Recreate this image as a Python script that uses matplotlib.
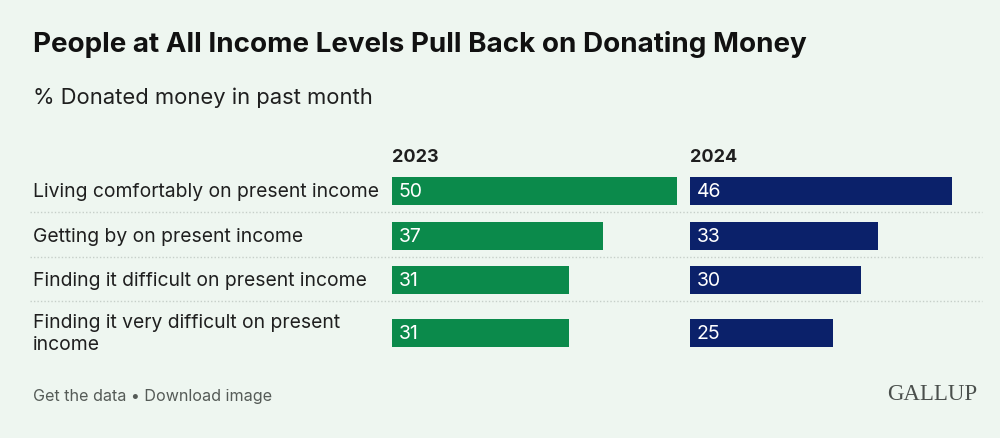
import matplotlib
matplotlib.use("Agg")
import matplotlib.pyplot as plt
from matplotlib.lines import Line2D

categories = [
    "Living comfortably on present income",
    "Getting by on present income",
    "Finding it difficult on present income",
    "Finding it very difficult on present\nincome",
]
series_names = ["2023", "2024"]
values_2023 = [50, 37, 31, 31]
values_2024 = [46, 33, 30, 25]

BG = "#EEF6F0"
GREEN = "#0B8A4B"
NAVY = "#0B216A"
TXT = "#1f1f1f"

W, H = 1000, 439
fig = plt.figure(figsize=(W / 100, H / 100), dpi=100, facecolor=BG)
plt.rcParams['font.family'] = ['Inter', 'DejaVu Sans']

def fx(px):
    return px / W

def fy(py):
    return 1 - py / H

# layout: row centers in pixel space
row_centers = [192, 237, 281, 334]
bar_h = 28
y_top, y_bot = 165, 360
xmax = 50
panel_w = 285

for left, vals, color in [(392, values_2023, GREEN), (690, values_2024, NAVY)]:
    ax = fig.add_axes([fx(left), fy(y_bot), fx(panel_w), (y_bot - y_top) / H])
    ax.set_facecolor("none")
    ax.set_xlim(0, xmax)
    ax.set_ylim(y_bot, y_top)
    ax.barh(row_centers, vals, height=bar_h, color=color, edgecolor="none")
    for yc, v in zip(row_centers, vals):
        ax.text(1.2, yc + 0.5, f"{v}", color="white", fontsize=14, va="center", ha="left")
    ax.axis("off")

# headers
fig.text(fx(392), fy(158), series_names[0], fontsize=13, fontweight="bold", color=TXT, va="center", ha="left")
fig.text(fx(690), fy(158), series_names[1], fontsize=13, fontweight="bold", color=TXT, va="center", ha="left")

# category labels
for yc, cat in zip(row_centers, categories):
    fig.text(fx(33), fy(yc), cat, fontsize=13.9, color=TXT, va="center", ha="left", linespacing=1.3)

# separators
for sy in [213, 258, 302]:
    fig.add_artist(Line2D([fx(30), fx(982)], [fy(sy), fy(sy)], transform=fig.transFigure,
                          color="#c6cfc9", lw=1, linestyle=(0, (1, 1.5))))

# title & subtitle
fig.text(fx(33), fy(44), "People at All Income Levels Pull Back on Donating Money",
         fontsize=20, fontweight="bold", color="#111111", va="center", ha="left")
fig.text(fx(33), fy(98), "% Donated money in past month", fontsize=15.8, color=TXT, va="center", ha="left")

# footer
fig.text(fx(33), fy(397), "Get the data \u2022 Download image", fontsize=11.6, color="#555b57", va="center", ha="left")
fig.text(fx(977), fy(395), "GALLUP", fontsize=16.5, color="#4a4f4c", va="center", ha="right",
         family=["Liberation Serif", "DejaVu Serif"])

fig.savefig("out.png", dpi=100, facecolor=BG)
